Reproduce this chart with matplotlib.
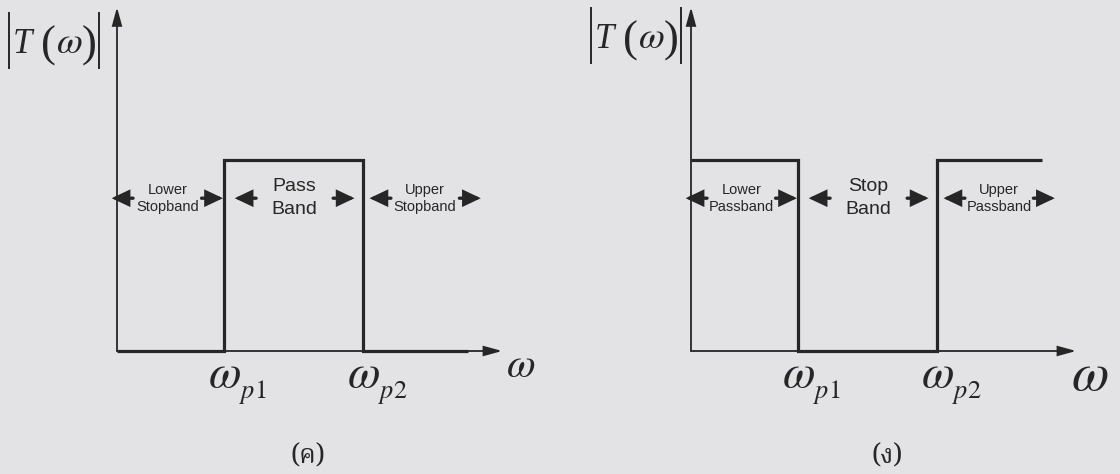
import matplotlib
matplotlib.use("Agg")
import matplotlib.pyplot as plt
from matplotlib import font_manager
from matplotlib.ft2font import FT2Font
from matplotlib.lines import Line2D

plt.rcParams["mathtext.fontset"] = "stix"

W, H, DPI = 1120, 474, 100
BG = "#e3e3e5"
INK = "#262626"
SERIF = "Liberation Serif"

# Ideal band-pass (left) and band-stop (right) magnitude responses
bp_freq = [0.0, 1.0, 1.0, 2.3, 2.3, 3.28]
bp_mag = [0, 0, 1, 1, 0, 0]
bs_freq = [0.0, 1.0, 1.0, 2.3, 2.3, 3.28]
bs_mag = [1, 1, 0, 0, 1, 1]

edge_freqs = [1.0, 2.3]
edge_subs = ["p1", "p2"]
bp_bands = ["Lower\nStopband", "Pass\nBand", "Upper\nStopband"]
bs_bands = ["Lower\nPassband", "Stop\nBand", "Upper\nPassband"]
panel_tags = ["(ค)", "(ง)"]

# layout
SX, SY = 107.0, 191.0          # pixels per frequency unit / per magnitude unit
Y0 = 351                       # pixel row of the frequency axis
ORIGINS = [117, 691]           # pixel column of each vertical axis
X_END, Y_END = 3.6, 1.80       # arrow tips of the two axes
ARROW_Y = 0.80
BAND_SPANS = [(-0.05, 0.99), (1.10, 2.22), (2.36, 3.40)]
BAND_SIZES = [10.5, 14, 10.5]
BAND_SPACING = [1.25, 1.45, 1.25]
OMEGA = r"$\omega$"


def thai_family():
    preferred = ["Noto Serif Thai", "Norasi", "TH Sarabun New", "Kinnari",
                 "Noto Sans Thai", "Loma", "Garuda", "Tlwg Typo"]
    found = []
    for entry in font_manager.fontManager.ttflist:
        try:
            if 0x0E04 in FT2Font(entry.fname).get_charmap():
                found.append(entry.name)
        except Exception:
            continue
    for name in preferred:
        if name in found:
            return name
    return found[0] if found else None


THAI = thai_family()

fig = plt.figure(figsize=(W / DPI, H / DPI), dpi=DPI, facecolor=BG)


def make_panel(x0):
    ax = fig.add_axes([0, 0, 1, 1])
    ax.set_xlim(-x0 / SX, (W - x0) / SX)
    ax.set_ylim((Y0 - H) / SY, Y0 / SY)
    ax.axis("off")
    ax.patch.set_alpha(0)
    return ax


def arrow(ax, tip, tail, lw, hl, hw):
    ax.annotate("", xy=tip, xytext=tail,
                arrowprops=dict(arrowstyle=f"-|>,head_length={hl},head_width={hw}",
                                lw=lw, color=INK, shrinkA=0, shrinkB=0,
                                joinstyle="miter"))


def header(tx, base):
    """|T(w)| label; tx = left of T, base = baseline row (pixels)."""
    fx = lambda px: px / W
    fy = lambda py: 1 - py / H
    for bx in (tx - 6, tx + 84):
        fig.add_artist(Line2D([fx(bx), fx(bx)], [fy(base - 40), fy(base + 15)],
                              lw=1.4, color=INK))
    fig.text(fx(tx - 2), fy(base), "T", fontsize=25, family=SERIF, style="italic",
             color=INK, va="baseline")
    fig.text(fx(tx + 26), fy(base + 4), "(", fontsize=32, family=SERIF,
             color=INK, va="baseline")
    fig.text(fx(tx + 41), fy(base), OMEGA, fontsize=27, color=INK, va="baseline")
    fig.text(fx(tx + 67), fy(base + 4), ")", fontsize=32, family=SERIF,
             color=INK, va="baseline")


def panel(x0, freq, mag, bands, tag, tag_x, axis_w, axis_w_y, axis_w_size):
    ax = make_panel(x0)
    # axes
    arrow(ax, (0, Y_END), (0, 0), 1.3, 1.1, 0.3)
    arrow(ax, (X_END, 0), (0, 0), 1.3, 1.1, 0.3)
    # response
    ax.plot(freq, mag, color=INK, lw=2.3, solid_joinstyle="miter",
            solid_capstyle="butt")
    # band annotations
    for (lo, hi), text, fs, ls in zip(BAND_SPANS, bands, BAND_SIZES, BAND_SPACING):
        arrow(ax, (lo, ARROW_Y), (lo + 0.2, ARROW_Y), 2.4, 0.95, 0.45)
        arrow(ax, (hi, ARROW_Y), (hi - 0.2, ARROW_Y), 2.4, 0.95, 0.45)
        ax.text((lo + hi) / 2, ARROW_Y, text, ha="center", va="center",
                fontsize=fs, family="Liberation Sans", linespacing=ls, color=INK)
    # band-edge frequencies
    for f, sub in zip(edge_freqs, edge_subs):
        ax.text(f, -0.19, OMEGA, ha="center", va="baseline",
                fontsize=34, color=INK)
        ax.text(f + 0.14, -0.246, rf"$\mathit{{{sub[0]}}}\mathrm{{{sub[1]}}}$",
                ha="left", va="baseline", fontsize=19, color=INK)
    # frequency axis label
    ax.text(axis_w, axis_w_y, OMEGA, ha="center", va="baseline",
            fontsize=axis_w_size, color=INK)
    # panel tag
    fam = [THAI, "DejaVu Serif"] if THAI else ["DejaVu Serif"]
    ax.text(tag_x, (Y0 - 456) / SY, tag, ha="center", va="center",
            fontsize=19, family=fam, color=INK)
    return ax


panel(ORIGINS[0], bp_freq, bp_mag, bp_bands, panel_tags[0], 1.78, 3.77, -0.136, 30)
panel(ORIGINS[1], bs_freq, bs_mag, bs_bands, panel_tags[1], 1.83, 3.73, -0.204, 39)
header(15, 53)
header(597, 48)

fig.savefig("out.png", dpi=DPI, facecolor=BG)
